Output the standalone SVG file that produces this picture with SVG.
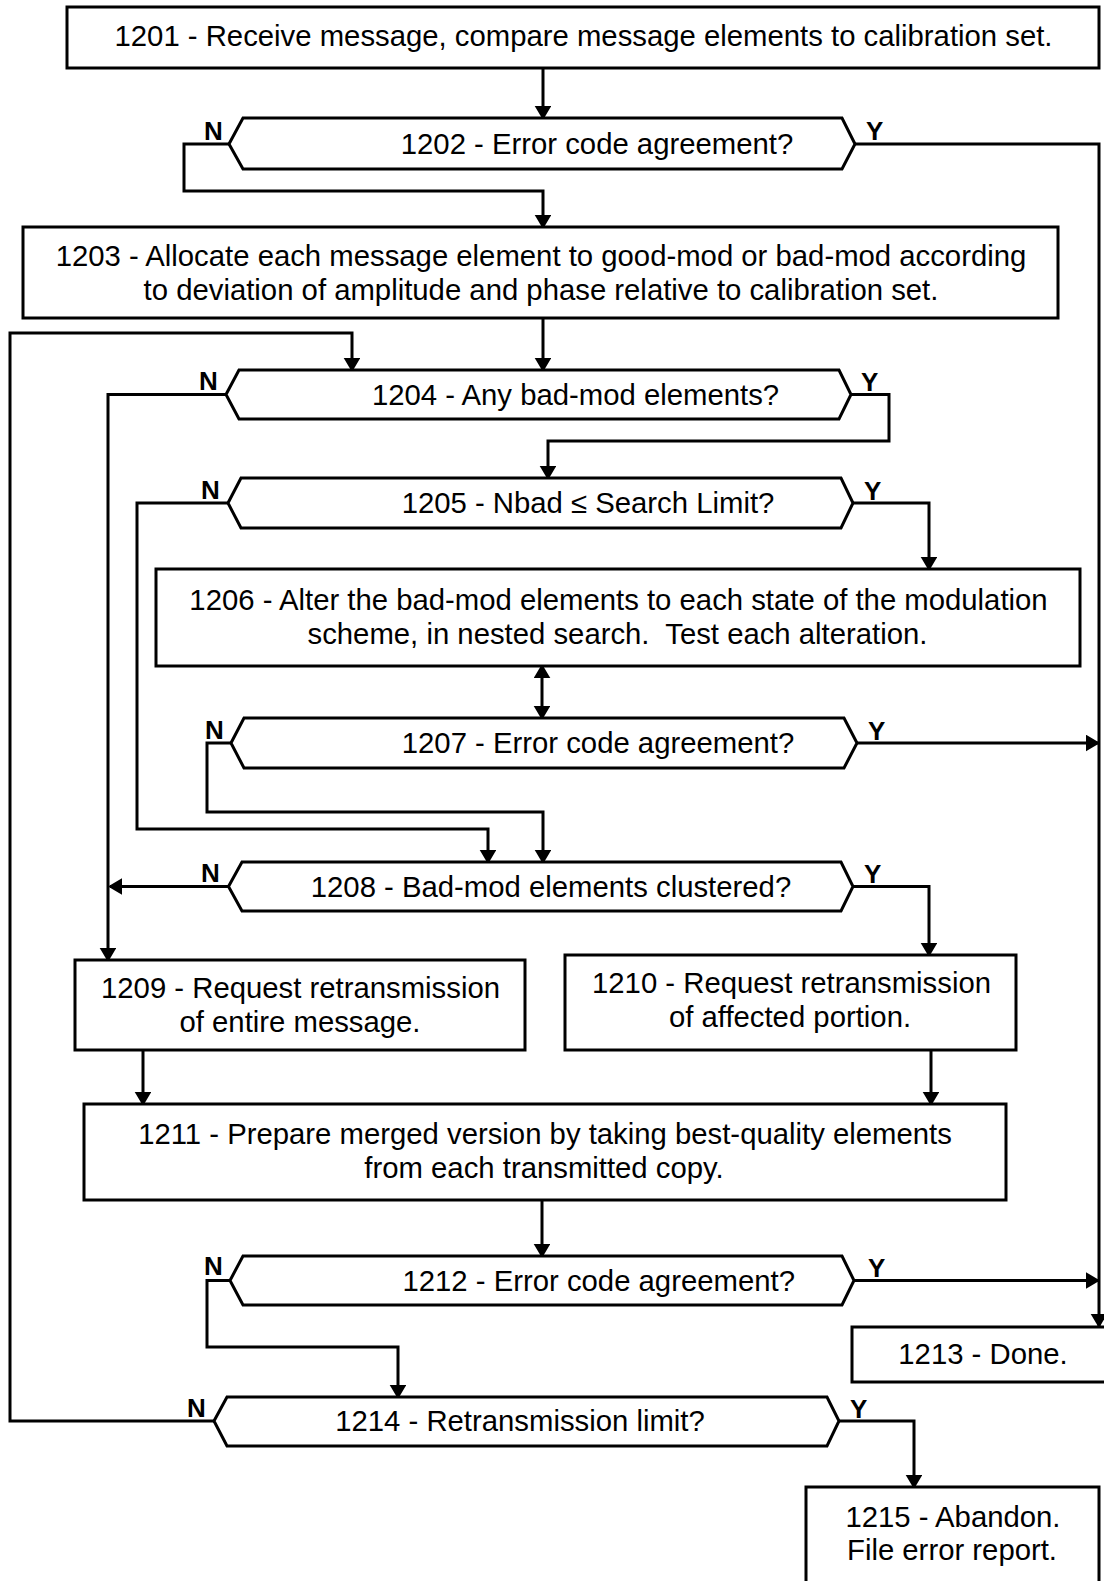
<svg xmlns="http://www.w3.org/2000/svg" width="1104" height="1581" viewBox="0 0 1104 1581">
<defs>
<marker id="ah" markerUnits="userSpaceOnUse" markerWidth="16" markerHeight="17" refX="12" refY="8.3" orient="auto-start-reverse">
<path d="M0,0 L14,8.3 L0,16.6 Z" fill="#000"/>
</marker>
<style>
.b{fill:#fff;stroke:#000;stroke-width:3}
.c{fill:none;stroke:#000;stroke-width:3}
.a{marker-end:url(#ah)}
.t{font-family:"Liberation Sans",Arial,sans-serif;font-size:29.3px;fill:#000;text-anchor:middle}
.l{font-family:"Liberation Sans",Arial,sans-serif;font-size:26px;font-weight:bold;fill:#000}
</style>
</defs>
<rect width="1104" height="1581" fill="#fff"/>
<g id="connectors">
<path class="c a" d="M543,68 V118"/>
<path class="c a" d="M229,144 H184 V191 H543 V227"/>
<path class="c a" d="M855,144 H1099 V1326"/>
<path class="c a" d="M543,318 V370"/>
<path class="c a" d="M214,1421 H10 V333 H352 V370"/>
<path class="c a" d="M226,394.5 H108 V960"/>
<path class="c a" d="M851,394.5 H889 V441 H548 V478"/>
<path class="c a" d="M228,503 H137 V829 H488 V862"/>
<path class="c a" d="M853,503 H929 V569"/>
<path class="c a" d="M542,666 V718" marker-start="url(#ah)"/>
<path class="c a" d="M231,743 H207 V812 H543 V862"/>
<path class="c a" d="M857,743 H1098"/>
<path class="c a" d="M228.5,886.5 H110"/>
<path class="c a" d="M853,886.5 H929 V955"/>
<path class="c a" d="M143,1050 V1104"/>
<path class="c a" d="M931,1050 V1104"/>
<path class="c a" d="M542,1200 V1256"/>
<path class="c a" d="M230,1280.5 H207 V1347 H398 V1397"/>
<path class="c a" d="M854,1280.5 H1098"/>
<path class="c a" d="M839,1421 H914 V1487"/>
<text class="l" x="204" y="140">N</text>
<text class="l" x="866" y="140">Y</text>
<text class="l" x="199" y="390">N</text>
<text class="l" x="861" y="391">Y</text>
<text class="l" x="201" y="499">N</text>
<text class="l" x="864" y="500">Y</text>
<text class="l" x="205" y="739">N</text>
<text class="l" x="868" y="740">Y</text>
<text class="l" x="201" y="882">N</text>
<text class="l" x="864" y="883">Y</text>
<text class="l" x="204" y="1275">N</text>
<text class="l" x="868" y="1277">Y</text>
<text class="l" x="187" y="1417">N</text>
<text class="l" x="850" y="1418">Y</text>
</g>
<g id="n1201">
<rect class="b" x="67" y="7" width="1032" height="61"/>
<text class="t" x="583.5" y="46">1201 - Receive message, compare message elements to calibration set.</text>
</g>
<g id="n1202">
<polygon class="b" points="229,144 243,118 842,118 855,144 842,169 243,169"/>
<text class="t" x="597" y="154">1202 - Error code agreement?</text>
</g>
<g id="n1203">
<rect class="b" x="23" y="227" width="1035" height="91"/>
<text class="t" x="541" y="266">1203 - Allocate each message element to good-mod or bad-mod according</text>
<text class="t" x="541" y="300">to deviation of amplitude and phase relative to calibration set.</text>
</g>
<g id="n1204">
<polygon class="b" points="226,394.5 239,370 839,370 851,394.5 839,419 239,419"/>
<text class="t" x="575.5" y="405">1204 - Any bad-mod elements?</text>
</g>
<g id="n1205">
<polygon class="b" points="228,503 241,478 841,478 853,503 841,528 241,528"/>
<text class="t" x="588" y="513">1205 - Nbad ≤ Search Limit?</text>
</g>
<g id="n1206">
<rect class="b" x="156" y="569" width="924" height="97"/>
<text class="t" x="618.5" y="610">1206 - Alter the bad-mod elements to each state of the modulation</text>
<text class="t" x="617.5" y="644" style="white-space:pre">scheme, in nested search.  Test each alteration.</text>
</g>
<g id="n1207">
<polygon class="b" points="231,743 244,718 844,718 857,743 844,768 244,768"/>
<text class="t" x="598" y="753">1207 - Error code agreement?</text>
</g>
<g id="n1208">
<polygon class="b" points="228.5,886.5 242,862 841,862 853,886.5 841,911 242,911"/>
<text class="t" x="551" y="897">1208 - Bad-mod elements clustered?</text>
</g>
<g id="n1209">
<rect class="b" x="75" y="960" width="450" height="90"/>
<text class="t" x="300.5" y="998">1209 - Request retransmission</text>
<text class="t" x="300" y="1032">of entire message.</text>
</g>
<g id="n1210">
<rect class="b" x="565" y="955" width="451" height="95"/>
<text class="t" x="791.5" y="993">1210 - Request retransmission</text>
<text class="t" x="790" y="1027">of affected portion.</text>
</g>
<g id="n1211">
<rect class="b" x="84" y="1104" width="922" height="96"/>
<text class="t" x="545" y="1144">1211 - Prepare merged version by taking best-quality elements</text>
<text class="t" x="544" y="1177.5">from each transmitted copy.</text>
</g>
<g id="n1212">
<polygon class="b" points="230,1280.5 243,1256 842,1256 854,1280.5 842,1305 243,1305"/>
<text class="t" x="598.7" y="1291">1212 - Error code agreement?</text>
</g>
<g id="n1213">
<rect class="b" x="852" y="1327" width="260" height="55"/>
<text class="t" x="983" y="1364">1213 - Done.</text>
</g>
<g id="n1214">
<polygon class="b" points="214,1421 227,1397 827,1397 839,1421 827,1446 227,1446"/>
<text class="t" x="520" y="1431">1214 - Retransmission limit?</text>
</g>
<g id="n1215">
<rect class="b" x="806" y="1487" width="293" height="110"/>
<text class="t" x="953" y="1527">1215 - Abandon.</text>
<text class="t" x="952" y="1560">File error report.</text>
</g>
</svg>
